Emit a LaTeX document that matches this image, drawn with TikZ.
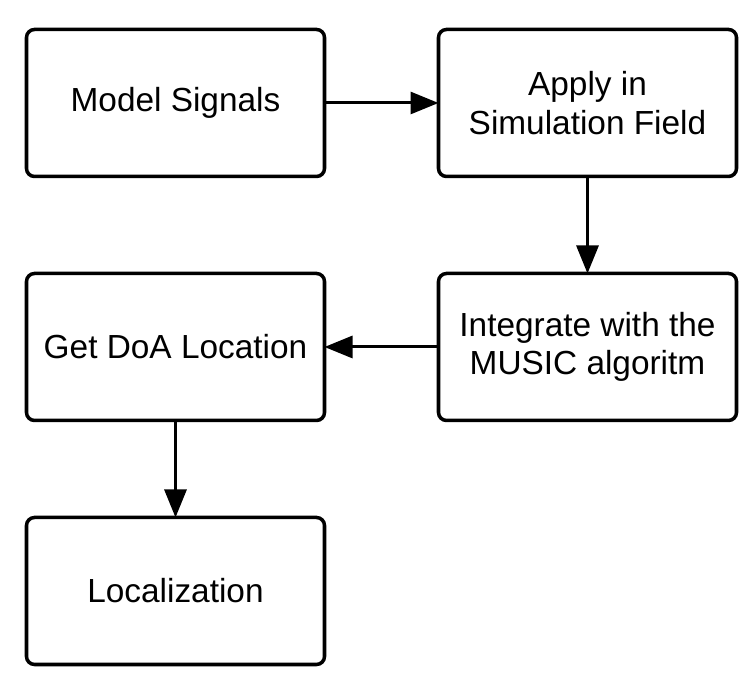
\documentclass[tikz,border=0pt]{standalone}
\usepackage{fontspec}
\setmainfont{Liberation Sans}
\usetikzlibrary{positioning,arrows.meta}

\tikzset{
  stepbox/.style={draw, line width=2pt, rounded corners=0.16cm, outer sep=0pt,
    minimum width=5.96cm, minimum height=2.94cm, align=center,
    font=\fontsize{19}{22}\selectfont},
  flow/.style={line width=1.7pt, -{Triangle[length=0.56cm,width=0.44cm]}}
}

\begin{document}
\begin{tikzpicture}
  \useasboundingbox (0,0) rectangle (15.12,13.66);

  \node[stepbox] (model) at (3.51,11.60) {Model Signals};
  \node[stepbox, right=2.28cm of model] (apply) {Apply in\\Simulation Field};
  \node[stepbox, below=1.94cm of apply] (music) {Integrate with the\\MUSIC algoritm};
  \node[stepbox, below=1.94cm of model] (doa) {Get DoA Location};
  \node[stepbox, below=1.94cm of doa] (local) {Localization};

  \draw[flow] (model) -- (apply);
  \draw[flow] (apply) -- (music);
  \draw[flow] (music) -- (doa);
  \draw[flow] (doa) -- (local);
\end{tikzpicture}
\end{document}
